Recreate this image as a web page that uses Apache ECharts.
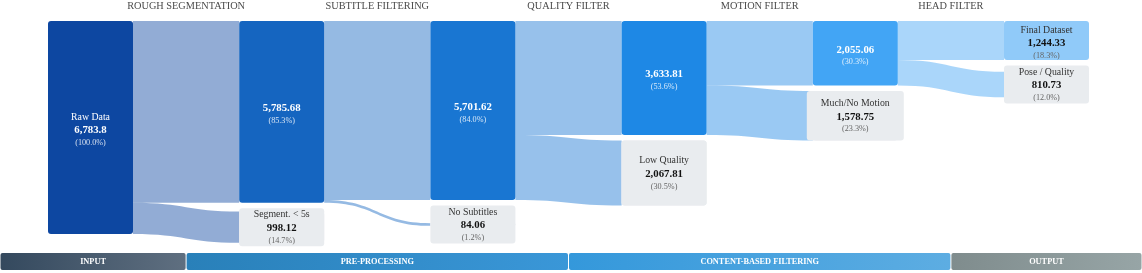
<!DOCTYPE html>
<html>
<head>
<meta charset="utf-8">
<script src="https://cdn.jsdelivr.net/npm/echarts@6/dist/echarts.min.js"></script>
<style>
html, body { margin: 0; padding: 0; background: #ffffff; }
#chart { width: 1142px; height: 273px; }
</style>
</head>
<body>
<div id="chart"></div>
<script>
// ---------------- data ----------------
const stageNames = ['ROUGH SEGMENTATION', 'SUBTITLE FILTERING', 'QUALITY FILTER', 'MOTION FILTER', 'HEAD FILTER'];
const sourceName = 'Raw Data';
const sourceValue = 6783.8;
const keptNames = ['After Segmentation', 'After Subtitle Filter', 'After Quality Filter', 'After Motion Filter', 'Final Dataset'];
const keptValues = [5785.68, 5701.62, 3633.81, 2055.06, 1244.33];
const droppedNames = ['Segment. < 5s', 'No Subtitles', 'Low Quality', 'Much/No Motion', 'Pose / Quality'];
const droppedValues = [998.12, 84.06, 2067.81, 1578.75, 810.73];
const phaseNames = ['INPUT', 'PRE-PROCESSING', 'CONTENT-BASED FILTERING', 'OUTPUT'];
const phaseFirstColumn = [0, 1, 3, 5];
const phaseLastColumn = [0, 2, 4, 5];

// ---------------- styles ----------------
const FONT = '"Liberation Serif", "Times New Roman", serif';
const sourceColor = '#0d47a1';
const keptColors = ['#1565c0', '#1976d2', '#1e88e5', '#42a5f5', '#90caf9'];
const dropColor = '#e9ecef';
const phaseGradients = [
  ['#34495e', '#5f6f80'],
  ['#2980b9', '#3a97d8'],
  ['#3498db', '#5dade2'],
  ['#7f8c8d', '#97a5a6']
];

// ---------------- layout ----------------
const CHART_W = 1142;
const S_LEFT = 48, S_TOP = 21, NODE_W = 85, NODE_GAP = 6, S_H = 219, S_W = 1041;
const BOX_MIN = 38, BOX_GAP = 5.5, BOX_PAD_X = 14;
const depthCount = stageNames.length;
const kx = (S_W - NODE_W) / depthCount;

// scale used by the sankey layout (same rule as ECharts: smallest column scale)
let ky = S_H / sourceValue;
for (let i = 0; i < keptValues.length; i++) {
  ky = Math.min(ky, (S_H - NODE_GAP) / (keptValues[i] + droppedValues[i]));
}

const nf = new Intl.NumberFormat('en-US', { maximumFractionDigits: 2 });
const pctText = v => '(' + (v / sourceValue * 100).toFixed(1) + '%)';

const measureCtx = document.createElement('canvas').getContext('2d');
measureCtx.font = '9.8px ' + FONT;

const richStyles = {
  nw: { color: '#ffffff', fontSize: 9.8, lineHeight: 13, fontFamily: FONT, align: 'center' },
  vw: { color: '#ffffff', fontSize: 10.8, fontWeight: 'bold', lineHeight: 14, fontFamily: FONT, align: 'center' },
  pw: { color: 'rgba(255,255,255,0.82)', fontSize: 8.2, lineHeight: 11, fontFamily: FONT, align: 'center' },
  nd: { color: '#333333', fontSize: 9.8, lineHeight: 13, fontFamily: FONT, align: 'center' },
  vd: { color: '#111111', fontSize: 10.8, fontWeight: 'bold', lineHeight: 14, fontFamily: FONT, align: 'center' },
  pd: { color: '#666666', fontSize: 8.2, lineHeight: 11, fontFamily: FONT, align: 'center' }
};

const nodes = [];
const links = [];
nodes.push({
  name: sourceName,
  itemStyle: { color: sourceColor },
  label: {
    padding: [4, 0, 0, 0],
    formatter: '{nw|' + sourceName + '}\n{vw|' + nf.format(sourceValue) + '}\n{pw|' + pctText(sourceValue) + '}'
  }
});
for (let i = 0; i < keptValues.length; i++) {
  const isLast = i === keptValues.length - 1;
  nodes.push({
    name: keptNames[i],
    itemStyle: { color: keptColors[i] },
    label: {
      padding: [4, 0, 0, 0],
      formatter: isLast
        ? '{nd|' + keptNames[i] + '}\n{vd|' + nf.format(keptValues[i]) + '}\n{pd|' + pctText(keptValues[i]) + '}'
        : '{vw|' + nf.format(keptValues[i]) + '}\n{pw|' + pctText(keptValues[i]) + '}'
    }
  });
  const keptH = keptValues[i] * ky;
  const dropH = droppedValues[i] * ky;
  const boxH = Math.max(dropH, BOX_MIN);
  const nodeTop = keptH + BOX_GAP + (boxH - dropH) / 2;
  const boxW = Math.max(NODE_W, Math.ceil(measureCtx.measureText(droppedNames[i]).width) + 2 * BOX_PAD_X);
  nodes.push({
    name: droppedNames[i],
    localY: nodeTop / S_H,
    itemStyle: { color: dropColor },
    label: {
      backgroundColor: dropColor,
      borderRadius: 3,
      width: boxW,
      padding: [(boxH - BOX_MIN) / 2, 0, (boxH - BOX_MIN) / 2, 0],
      formatter: '{nd|' + droppedNames[i] + '}\n{vd|' + nf.format(droppedValues[i]) + '}\n{pd|' + pctText(droppedValues[i]) + '}'
    }
  });
  const from = i === 0 ? sourceName : keptNames[i - 1];
  links.push({ source: from, target: keptNames[i], value: keptValues[i] });
  links.push({ source: from, target: droppedNames[i], value: droppedValues[i] });
}

// axis in "column units" aligned with the sankey columns (centre of column i at value i)
const c0 = S_LEFT + NODE_W / 2;
const axisMin = -c0 / kx;
const axisMax = (CHART_W - c0) / kx;

const chart = echarts.init(document.getElementById('chart'), null, { renderer: 'canvas' });
chart.setOption({
  animation: false,
  backgroundColor: '#ffffff',
  textStyle: { fontFamily: FONT },
  grid: { left: 0, right: 0, top: 13, bottom: 0 },
  xAxis: {
    type: 'value',
    position: 'top',
    min: axisMin,
    max: axisMax,
    axisLine: { show: false },
    axisTick: { show: false },
    splitLine: { show: false },
    axisLabel: {
      customValues: stageNames.map((_, i) => i + 0.5),
      formatter: v => stageNames[Math.round(v - 0.5)] || '',
      color: '#4a4a4a',
      fontSize: 10.3,
      fontFamily: FONT,
      margin: 2
    }
  },
  yAxis: { type: 'value', show: false, min: 0, max: 1 },
  series: [
    {
      type: 'sankey',
      left: S_LEFT,
      top: S_TOP,
      width: S_W,
      height: S_H,
      nodeWidth: NODE_W,
      nodeGap: NODE_GAP,
      nodeAlign: 'left',
      layoutIterations: 0,
      draggable: false,
      emphasis: { disabled: true },
      label: { show: true, position: 'inside', fontFamily: FONT, rich: richStyles },
      itemStyle: { borderWidth: 0, borderRadius: 3 },
      lineStyle: { color: 'source', opacity: 0.45, curveness: 0.5 },
      data: nodes,
      links: links
    },
    {
      type: 'custom',
      clip: false,
      silent: true,
      encode: { x: [0, 1] },
      data: phaseNames.map((n, i) => [phaseFirstColumn[i] - 0.5, phaseLastColumn[i] + 0.5]),
      renderItem: function (params, api) {
        const cs = params.coordSys;
        const i = params.dataIndex;
        let x0 = api.coord([api.value(0), 0])[0];
        let x1 = api.coord([api.value(1), 0])[0];
        if (i === 0) x0 = cs.x;
        if (i === phaseNames.length - 1) x1 = cs.x + cs.width;
        const y = cs.y + cs.height - 20;
        const h = 17;
        const g = phaseGradients[i];
        return {
          type: 'group',
          children: [
            {
              type: 'rect',
              shape: { x: x0 + 0.5, y: y, width: x1 - x0 - 1, height: h, r: 2 },
              style: { fill: new echarts.graphic.LinearGradient(0, 0, 1, 0, [{ offset: 0, color: g[0] }, { offset: 1, color: g[1] }]) }
            },
            {
              type: 'text',
              style: {
                text: phaseNames[i],
                x: (x0 + x1) / 2,
                y: y + h / 2 + 0.5,
                align: 'center',
                verticalAlign: 'middle',
                fill: '#ffffff',
                font: 'bold 8.3px ' + FONT
              }
            }
          ]
        };
      }
    }
  ]
});
</script>
</body>
</html>
